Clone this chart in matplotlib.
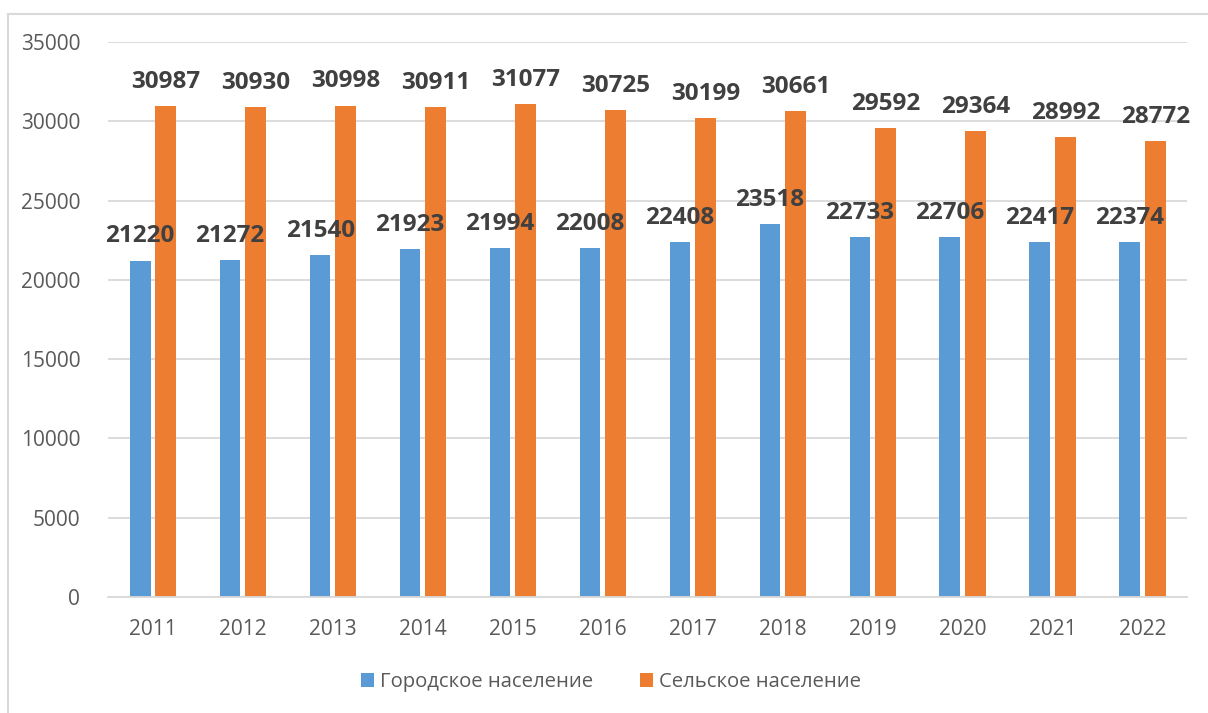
import matplotlib
matplotlib.use('Agg')
import numpy as np
import matplotlib.pyplot as plt
from matplotlib.lines import Line2D

plt.rcParams['font.family'] = ['Open Sans', 'DejaVu Sans']

years = ['2011', '2012', '2013', '2014', '2015', '2016',
         '2017', '2018', '2019', '2020', '2021', '2022']
urban = [21220, 21272, 21540, 21923, 21994, 22008,
         22408, 23518, 22733, 22706, 22417, 22374]
rural = [30987, 30930, 30998, 30911, 31077, 30725,
         30199, 30661, 29592, 29364, 28992, 28772]

blue = '#5b9bd5'
orange = '#ed7d31'
grey_txt = '#595959'
grid_col = '#d9d9d9'

fig = plt.figure(figsize=(12.08, 7.13), dpi=100)
ax = fig.add_axes([0.0894, 0.1627, 0.8936, 0.7783])

x = np.arange(len(years))
w = 0.23
off = 0.142

b1 = ax.bar(x - off, urban, w, color=blue, label='Городское население', zorder=2)
b2 = ax.bar(x + off, rural, w, color=orange, label='Сельское население', zorder=2)

# value labels
for bars, vals in [(b1, urban), (b2, rural)]:
    for rect, v in zip(bars, vals):
        ax.annotate(str(v), (rect.get_x() + rect.get_width() / 2, v),
                    xytext=(0, 13), textcoords='offset points',
                    ha='center', va='baseline', fontsize=17.5,
                    fontweight='bold', color='#404040', zorder=5)

ax.set_xlim(-0.5, len(years) - 0.5)
ax.set_ylim(0, 35000)
ax.set_yticks(np.arange(0, 35001, 5000))
ax.set_xticks(x)
ax.set_xticklabels(years)
ax.yaxis.grid(True, color=grid_col, linewidth=1.3, zorder=0)
ax.set_axisbelow(True)
for s in ['top', 'right', 'left']:
    ax.spines[s].set_visible(False)
ax.spines['bottom'].set_color(grid_col)
ax.spines['bottom'].set_linewidth(1.3)
ax.tick_params(axis='both', length=0, labelsize=15, colors=grey_txt)
ax.tick_params(axis='y', pad=20)
ax.tick_params(axis='x', pad=16)

leg = fig.legend(handles=[b1, b2], loc='center', bbox_to_anchor=(0.506, 0.043),
                 ncol=2, frameon=False, fontsize=14.6, handlelength=0.65,
                 handleheight=0.65, handletextpad=0.3, columnspacing=2.3)
for t in leg.get_texts():
    t.set_color(grey_txt)

# outer chart frame (partly cut off in the original)
fig.add_artist(Line2D([8 / 1208, 1.0], [1 - 14 / 713, 1 - 14 / 713],
                      color=grid_col, linewidth=1.5, transform=fig.transFigure))
fig.add_artist(Line2D([8 / 1208, 8 / 1208], [0, 1 - 14 / 713],
                      color=grid_col, linewidth=1.5, transform=fig.transFigure))

fig.savefig('out.png', dpi=100)
